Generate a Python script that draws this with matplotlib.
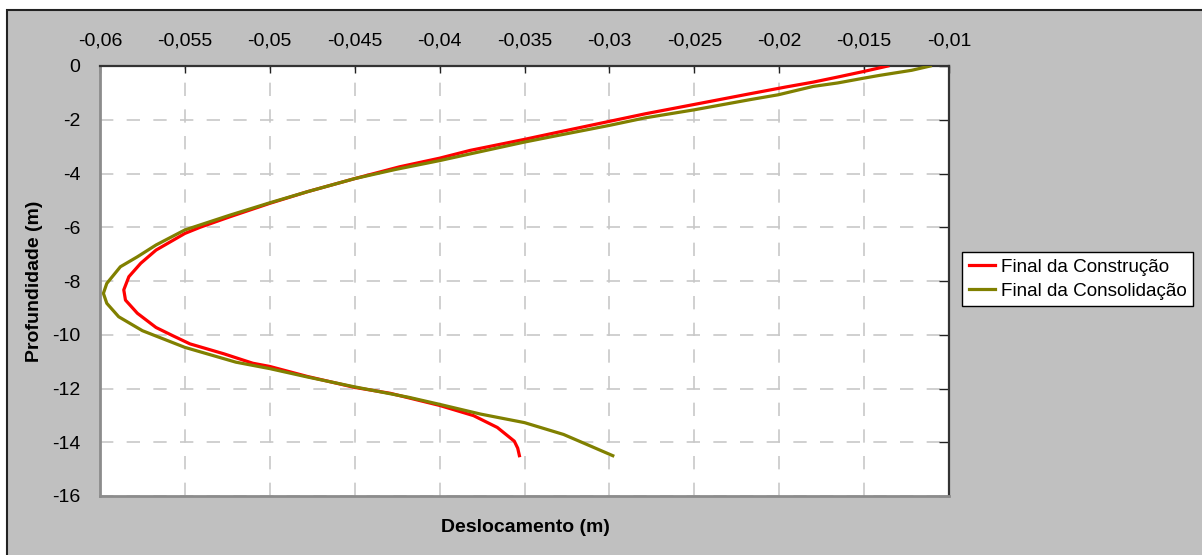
import matplotlib
matplotlib.use("Agg")
import matplotlib.pyplot as plt
from matplotlib.patches import Rectangle

plt.rcParams['font.family'] = ['Liberation Sans', 'DejaVu Sans']

# Final da Construção
depth_constr = [0, -0.2, -0.41, -0.6, -0.78, -1.03, -1.43, -1.78, -2.06, -2.46, -2.73, -3.14,
                -3.43, -3.75, -4.19, -4.68, -5.11, -5.61, -6.0, -6.23, -6.85, -7.34, -7.84,
                -8.33, -8.71, -9.2, -9.73, -10.04, -10.34, -10.71, -11.06, -11.18, -11.55,
                -11.96, -12.18, -12.63, -13.01, -13.45, -13.96, -14.22, -14.5]
disp_constr = [-0.0136, -0.0150, -0.01655, -0.0180, -0.0196, -0.0217, -0.0250, -0.0279, -0.0300,
               -0.0330, -0.0350, -0.0382, -0.0400, -0.04235, -0.0450, -0.0478, -0.0500, -0.05235,
               -0.0541, -0.0550, -0.0567, -0.0576, -0.0583, -0.0586, -0.0585, -0.0578, -0.0567,
               -0.0557, -0.0547, -0.0527, -0.0510, -0.0500, -0.0478, -0.0450, -0.0429, -0.0400,
               -0.0380, -0.0366, -0.0356, -0.0354, -0.0353]

# Final da Consolidação
depth_consol = [0, -0.16, -0.35, -0.45, -0.63, -0.76, -1.07, -1.25, -1.63, -1.93, -2.21, -2.58,
                -2.83, -3.27, -3.52, -3.85, -4.19, -4.68, -5.09, -5.55, -6.1, -6.66, -7.1, -7.47,
                -8.09, -8.46, -8.83, -9.33, -9.85, -10.47, -11.02, -11.26, -11.57, -11.94,
                -12.33, -12.59, -12.95, -13.27, -13.71, -14.09, -14.5]
disp_consol = [-0.0111, -0.0122, -0.0141, -0.0150, -0.01655, -0.0180, -0.02005, -0.0217, -0.0250,
               -0.0279, -0.0300, -0.0330, -0.0350, -0.0382, -0.0400, -0.0426, -0.0450, -0.0478,
               -0.0500, -0.05235, -0.0550, -0.0567, -0.0578, -0.0588, -0.0596, -0.0598, -0.0596,
               -0.0589, -0.0575, -0.0550, -0.0520, -0.0500, -0.0478, -0.0450, -0.0418, -0.0400,
               -0.0376, -0.0350, -0.0327, -0.0313, -0.0298]

x_ticks = [-0.06, -0.055, -0.05, -0.045, -0.04, -0.035, -0.03, -0.025, -0.02, -0.015, -0.01]
x_ticklabels = ['-0,06', '-0,055', '-0,05', '-0,045', '-0,04', '-0,035', '-0,03', '-0,025',
                '-0,02', '-0,015', '-0,01']
y_ticks = [0, -2, -4, -6, -8, -10, -12, -14, -16]

FS = 14
W, H = 1202, 555
fig = plt.figure(figsize=(W / 100, H / 100), dpi=100, facecolor='white')
bg = Rectangle((7 / W, -0.05), (W + 20) / W, (H - 10) / H + 0.05, transform=fig.transFigure,
               facecolor='#C0C0C0', edgecolor='#222222', linewidth=1.5, zorder=-10)
fig.patches.append(bg)

ax = fig.add_axes([100 / W, 1 - 496 / H, (949 - 100) / W, (496 - 66) / H], zorder=2)
ax.set_facecolor('white')

ax.plot(disp_constr, depth_constr, color='#FF0000', lw=2.3, label='Final da Construção', zorder=3)
ax.plot(disp_consol, depth_consol, color='#808000', lw=2.3, label='Final da Consolidação', zorder=3)

ax.set_xlim(-0.06, -0.01)
ax.set_ylim(-16, 0)
ax.set_xticks(x_ticks)
ax.set_xticklabels(x_ticklabels)
ax.set_yticks(y_ticks)
ax.set_yticklabels([str(v) for v in y_ticks])

ax.xaxis.tick_top()
ax.tick_params(axis='x', direction='in', length=5, width=1, color='#222222', labelsize=FS,
               pad=12, top=True, bottom=False)
ax.tick_params(axis='y', direction='in', length=7, width=1, color='#222222', labelsize=FS,
               left=False, right=True, labelleft=True, labelright=False, pad=14)

ax.grid(True, color='#C8C8C8', linestyle=(0, (8, 8)), linewidth=1.2)
ax.set_axisbelow(True)

for s in ['top', 'right']:
    ax.spines[s].set_color('#333333')
    ax.spines[s].set_linewidth(1.6)
for s in ['left', 'bottom']:
    ax.spines[s].set_color('#8C8C8C')
    ax.spines[s].set_linewidth(2)

fig.text(525 / W, 1 - 528 / H, 'Deslocamento (m)', ha='center', va='center',
         fontsize=FS, fontweight='bold')
fig.text(35 / W, 1 - 281 / H, 'Profundidade (m)', ha='center', va='center',
         fontsize=FS, fontweight='bold', rotation=90)

leg = fig.legend(loc='upper left', bbox_to_anchor=(962 / W, 1 - 252 / H),
                 bbox_transform=fig.transFigure, fontsize=13.6, frameon=True, fancybox=False,
                 edgecolor='black', framealpha=1, handlelength=1.4, handletextpad=0.3,
                 borderpad=0.35, labelspacing=0.35, borderaxespad=0)
leg.get_frame().set_linewidth(1)

fig.savefig('out.png', dpi=100, facecolor=fig.get_facecolor())
